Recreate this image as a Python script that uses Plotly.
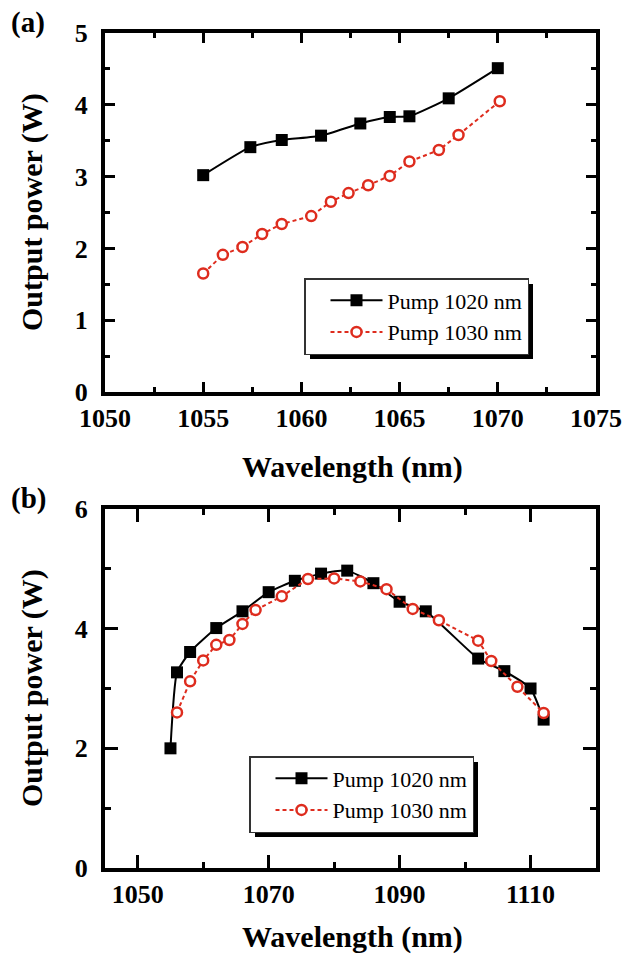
import plotly.graph_objects as go

# ---------------- data ----------------
# Panel (a)
a_wl_1020 = [1055.0, 1057.4, 1059.0, 1061.0, 1063.0, 1064.5, 1065.5, 1067.5, 1070.0]
a_pw_1020 = [3.02, 3.41, 3.51, 3.57, 3.74, 3.83, 3.84, 4.09, 4.51]
a_wl_1030 = [1055.0, 1056.0, 1057.0, 1058.0, 1059.0, 1060.5, 1061.5, 1062.4, 1063.4,
             1064.5, 1065.5, 1067.0, 1068.0, 1070.1]
a_pw_1030 = [1.65, 1.91, 2.02, 2.20, 2.34, 2.45, 2.65, 2.77, 2.88, 3.01, 3.21, 3.37, 3.58, 4.05]

# Panel (b)
b_wl_1020 = [1055, 1056, 1058, 1062, 1066, 1070, 1074, 1078, 1082, 1086, 1090, 1094,
             1102, 1106, 1110, 1112]
b_pw_1020 = [2.00, 3.27, 3.61, 4.01, 4.29, 4.61, 4.80, 4.92, 4.97, 4.76, 4.45, 4.29,
             3.50, 3.29, 3.00, 2.48]
b_wl_1030 = [1056, 1058, 1060, 1062, 1064, 1066, 1068, 1072, 1076, 1080, 1084, 1088,
             1092, 1096, 1102, 1104, 1108, 1112]
b_pw_1030 = [2.60, 3.12, 3.47, 3.73, 3.81, 4.08, 4.31, 4.54, 4.83, 4.84, 4.79, 4.66,
             4.33, 4.14, 3.80, 3.46, 3.03, 2.59]

series_names = ["Pump 1020 nm", "Pump 1030 nm"]
x_title = "Wavelength (nm)"
y_title = "Output power (W)"
panel_labels = ["(a)", "(b)"]

# ---------------- layout helpers ----------------
W, H = 639, 956
def px(x):
    return x / W
def py(y):
    return 1 - y / H

FONT = "Liberation Serif, Times New Roman, serif"
BLACK = "#000000"
RED = "#de2c1e"

fig = go.Figure()

def add_pair(wl1, pw1, wl2, pw2, xa, ya, legend):
    fig.add_trace(go.Scatter(
        x=wl1, y=pw1, name=series_names[0], mode="lines+markers",
        line=dict(color=BLACK, width=2, shape="spline", smoothing=0.5),
        marker=dict(symbol="square", size=12, color=BLACK),
        xaxis=xa, yaxis=ya, legend=legend))
    fig.add_trace(go.Scatter(
        x=wl2, y=pw2, name=series_names[1], mode="lines+markers",
        line=dict(color=RED, width=2, dash="4px,3px"),
        marker=dict(symbol="circle", size=10, color="white",
                    line=dict(color=RED, width=2.5)),
        xaxis=xa, yaxis=ya, legend=legend))

add_pair(a_wl_1020, a_pw_1020, a_wl_1030, a_pw_1030, "x", "y", "legend")
add_pair(b_wl_1020, b_pw_1020, b_wl_1030, b_pw_1030, "x2", "y2", "legend2")

tickfont = dict(family=FONT, size=26, color=BLACK, weight="bold")

def axis_common(major_len, minor_len):
    return dict(showline=True, linewidth=4, linecolor=BLACK, mirror="allticks",
                ticks="inside", ticklen=major_len, tickwidth=3, tickcolor=BLACK,
                showgrid=False, zeroline=False, tickfont=tickfont, automargin=False,
                minor=dict(ticks="inside", ticklen=minor_len, tickwidth=3,
                           tickcolor=BLACK, showgrid=False))

x_dom = [px(105), px(596)]

xa1 = axis_common(10, 5)
xa1.update(domain=x_dom, range=[1050, 1075], tick0=1050, dtick=5, anchor="y")
xa1["minor"].update(dtick=2.5, tick0=1050)
ya1 = axis_common(10, 5)
ya1.update(domain=[py(392), py(33)], range=[0, 5], dtick=1, anchor="x",
           ticklabelstandoff=8)
ya1["minor"].update(dtick=0.5)

xa2 = axis_common(13, 6)
xa2.update(domain=x_dom, range=[1045, 1120], tick0=1050, dtick=20, anchor="y2")
xa2["minor"].update(dtick=10, tick0=1050)
ya2 = axis_common(13, 6)
ya2.update(domain=[py(868), py(509)], range=[0, 6], dtick=2, anchor="x2",
           ticklabelstandoff=8)
ya2["minor"].update(dtick=1)

legend_font = dict(family=FONT, size=22, color=BLACK)
# approximate rendered legend boxes (pixels)
leg_a = dict(left=304, top=278, right=527, bottom=353)
leg_b = dict(left=249, top=756, right=472, bottom=831)

def legend_cfg(box):
    return dict(x=px(box["left"]), y=py(box["top"]), xanchor="left", yanchor="top",
                bgcolor="white", bordercolor="#333333", borderwidth=1.5,
                font=legend_font, itemwidth=52, indentation=20, tracegroupgap=0)

shadow = 6
shapes = []
for box in (leg_a, leg_b):
    shapes.append(dict(type="rect", xref="paper", yref="paper",
                       x0=px(box["left"] + shadow), x1=px(box["right"] + shadow),
                       y0=py(box["bottom"] + shadow), y1=py(box["top"] + shadow),
                       fillcolor=BLACK, line=dict(width=0), layer="above"))

title_font = dict(family=FONT, size=30, color=BLACK, weight="bold")
label_font = dict(family=FONT, size=29, color=BLACK, weight="bold")
annotations = [
    dict(text=x_title, x=px(352), y=py(467), xref="paper", yref="paper",
         showarrow=False, font=title_font, xanchor="center", yanchor="middle"),
    dict(text=x_title, x=px(352), y=py(937), xref="paper", yref="paper",
         showarrow=False, font=title_font, xanchor="center", yanchor="middle"),
    dict(text=y_title, x=px(32), y=py(212), xref="paper", yref="paper",
         showarrow=False, font=title_font, textangle=-90,
         xanchor="center", yanchor="middle"),
    dict(text=y_title, x=px(32), y=py(688), xref="paper", yref="paper",
         showarrow=False, font=title_font, textangle=-90,
         xanchor="center", yanchor="middle"),
    dict(text=panel_labels[0], x=px(28), y=py(23), xref="paper", yref="paper",
         showarrow=False, font=label_font, xanchor="center", yanchor="middle"),
    dict(text=panel_labels[1], x=px(28), y=py(498), xref="paper", yref="paper",
         showarrow=False, font=label_font, xanchor="center", yanchor="middle"),
]

fig.update_layout(
    width=W, height=H, margin=dict(l=0, r=0, t=0, b=0, autoexpand=False),
    paper_bgcolor="white", plot_bgcolor="white",
    xaxis=xa1, yaxis=ya1, xaxis2=xa2, yaxis2=ya2,
    legend=legend_cfg(leg_a), legend2=legend_cfg(leg_b),
    shapes=shapes, annotations=annotations,
    showlegend=True,
)

fig.write_html("out.html")
